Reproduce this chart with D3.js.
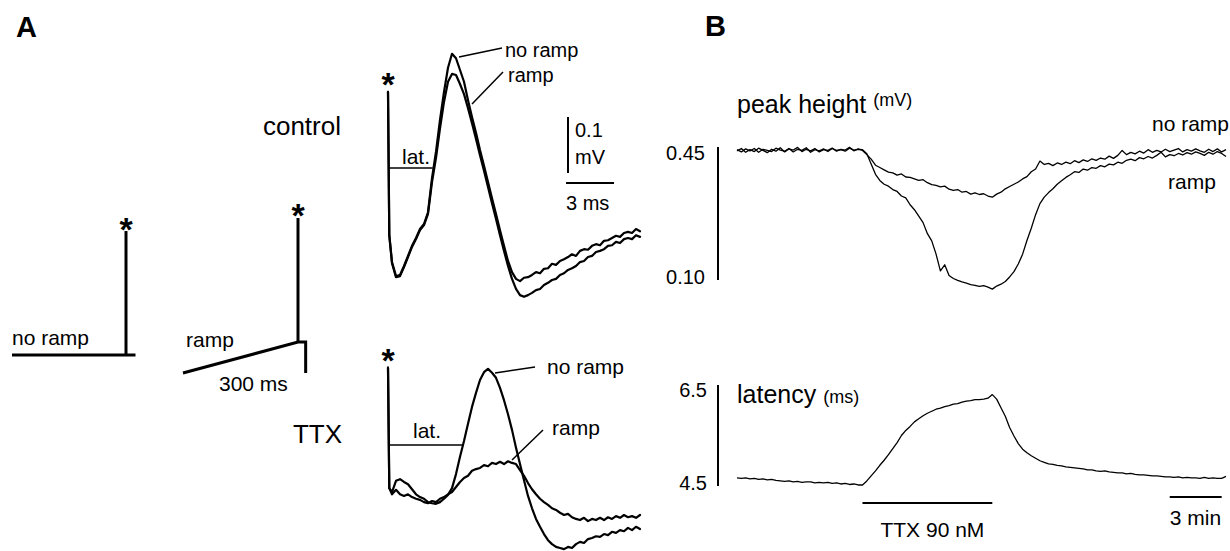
<!DOCTYPE html>
<html><head><meta charset="utf-8">
<script src="https://cdn.jsdelivr.net/npm/d3@7"></script>
<style>
html,body{margin:0;padding:0;background:#fff;}
svg{display:block;}
text{font-family:'Liberation Sans',Arial,Helvetica,sans-serif;fill:#000;}
</style>
</head><body>
<svg id="chart" width="1230" height="551"></svg>
<script>
// ---------------- DATA ----------------
// Panel A: evoked responses, time in ms after stimulus, amplitude in mV (relative to latency level)
const traceTimesMs = [0, 0.08].concat(d3.range(0.25, 15.76, 0.25));
const controlNoRamp = [0.136,-0.120,-0.168,-0.193,-0.191,-0.175,-0.157,-0.139,-0.125,-0.109,-0.100,-0.079,-0.018,0.029,0.086,0.136,0.179,0.204,0.196,0.175,0.154,0.121,0.091,0.063,0.032,0.004,-0.025,-0.054,-0.082,-0.111,-0.139,-0.166,-0.186,-0.198,-0.202,-0.196,-0.195,-0.191,-0.186,-0.188,-0.180,-0.179,-0.171,-0.173,-0.166,-0.163,-0.159,-0.154,-0.157,-0.148,-0.145,-0.146,-0.139,-0.136,-0.138,-0.130,-0.129,-0.125,-0.121,-0.123,-0.116,-0.114,-0.116,-0.109,-0.113];
const controlRamp = [0.136,-0.120,-0.170,-0.195,-0.193,-0.177,-0.159,-0.141,-0.127,-0.111,-0.102,-0.082,-0.025,0.018,0.071,0.118,0.154,0.168,0.166,0.150,0.132,0.107,0.080,0.052,0.023,-0.005,-0.034,-0.063,-0.091,-0.120,-0.148,-0.175,-0.198,-0.216,-0.227,-0.230,-0.227,-0.223,-0.218,-0.216,-0.209,-0.205,-0.200,-0.198,-0.191,-0.188,-0.182,-0.179,-0.175,-0.168,-0.166,-0.159,-0.157,-0.150,-0.148,-0.145,-0.139,-0.138,-0.132,-0.134,-0.127,-0.125,-0.127,-0.120,-0.123];
const ttxNoRamp = [0.138,-0.077,-0.084,-0.064,-0.061,-0.066,-0.070,-0.079,-0.088,-0.093,-0.096,-0.102,-0.104,-0.105,-0.102,-0.096,-0.089,-0.077,-0.052,-0.021,0.007,0.038,0.068,0.093,0.116,0.130,0.136,0.129,0.120,0.102,0.080,0.055,0.027,-0.005,-0.034,-0.063,-0.091,-0.113,-0.132,-0.146,-0.159,-0.170,-0.177,-0.182,-0.184,-0.186,-0.182,-0.184,-0.177,-0.173,-0.175,-0.168,-0.166,-0.163,-0.164,-0.159,-0.161,-0.155,-0.157,-0.152,-0.154,-0.148,-0.152,-0.146,-0.150];
const ttxRamp = [0.138,-0.077,-0.088,-0.080,-0.088,-0.091,-0.088,-0.093,-0.096,-0.098,-0.102,-0.104,-0.100,-0.102,-0.096,-0.093,-0.088,-0.084,-0.075,-0.066,-0.059,-0.055,-0.046,-0.043,-0.041,-0.036,-0.038,-0.032,-0.034,-0.030,-0.034,-0.029,-0.032,-0.034,-0.045,-0.055,-0.068,-0.079,-0.088,-0.096,-0.102,-0.107,-0.113,-0.116,-0.121,-0.125,-0.123,-0.129,-0.132,-0.134,-0.130,-0.136,-0.132,-0.134,-0.130,-0.134,-0.129,-0.132,-0.127,-0.130,-0.125,-0.129,-0.127,-0.130,-0.125];
const latencyControlMs = 2.8;
const latencyTTXMs = 4.7;
const scaleBarMs = 3;
const scaleBarMv = 0.1;

// Stimulus protocols (ms relative to stimulus, command level in arbitrary units)
const protoNoRampTime = [-300, 25];
const protoNoRampLevel = [0, 0];
const protoRampTime = [-300, 0, 20, 20];
const protoRampLevel = [0, 1, 1, 0];
const stimulusHeight = 4;

// Panel B: time course, one sample every 0.25 min
const sampleMinutes = 0.25;
const peakNoRamp = [0.440,0.446,0.436,0.443,0.438,0.447,0.441,0.435,0.444,0.439,0.448,0.437,0.445,0.442,0.449,0.438,0.444,0.440,0.446,0.437,0.443,0.441,0.447,0.439,0.444,0.442,0.449,0.440,0.445,
0.441,0.430,0.418,0.402,0.396,0.390,0.384,0.382,0.376,0.379,
0.371,0.370,0.366,0.362,0.364,0.356,0.351,0.349,0.345,0.347,
0.339,0.336,0.338,0.331,0.333,0.326,0.329,0.325,0.327,0.321,
0.318,0.326,0.331,0.340,0.346,0.352,0.358,0.366,0.372,0.385,
0.392,0.413,0.404,0.407,0.401,0.408,0.404,0.410,0.406,0.414,
0.409,0.416,0.412,0.419,0.415,0.421,0.418,0.426,0.420,0.428,
0.441,0.430,0.436,0.432,0.439,0.434,0.443,0.436,0.441,0.437,
0.444,0.438,0.442,0.446,0.437,0.443,0.439,0.445,0.440,0.436,
0.444,0.438,0.445,0.437,0.443];
const peakRamp = [0.443,0.437,0.445,0.440,0.446,0.436,0.444,0.441,0.438,0.447,0.442,0.439,0.446,0.437,0.444,0.441,0.448,0.436,0.443,0.440,0.445,0.438,0.446,0.441,0.443,0.439,0.447,0.442,0.444,
0.443,0.432,0.405,0.378,0.362,0.352,0.347,0.338,0.333,0.321,
0.316,0.298,0.285,0.268,0.251,0.222,0.203,0.168,0.124,0.140,
0.112,0.104,0.099,0.095,0.092,0.088,0.086,0.083,0.085,0.081,
0.076,0.084,0.089,0.096,0.108,0.122,0.142,0.168,0.204,0.236,
0.272,0.301,0.318,0.330,0.340,0.352,0.361,0.370,0.377,0.385,
0.383,0.392,0.389,0.396,0.394,0.401,0.398,0.405,0.403,0.410,
0.407,0.415,0.418,0.414,0.422,0.419,0.425,0.421,0.428,0.436,
0.424,0.430,0.427,0.433,0.429,0.435,0.431,0.437,0.433,0.428,
0.436,0.431,0.438,0.433,0.425];
const latencyTrace = [4.66,4.65,4.66,4.64,4.65,4.63,4.64,4.62,4.63,4.61,4.60,4.59,4.60,4.58,4.59,4.57,4.58,4.58,4.56,4.57,4.56,4.57,4.55,4.56,4.54,4.55,4.53,4.54,4.52,
4.52,4.60,4.70,4.80,4.91,5.01,5.12,5.24,5.36,5.50,
5.60,5.68,5.77,5.83,5.89,5.94,5.98,6.02,6.04,6.07,
6.09,6.12,6.13,6.16,6.18,6.19,6.21,6.21,6.22,6.24,
6.31,6.22,6.05,5.88,5.66,5.49,5.34,5.23,5.16,5.10,
5.05,5.00,4.97,4.94,4.93,4.91,4.90,4.88,4.87,4.86,
4.85,4.84,4.82,4.82,4.80,4.79,4.80,4.78,4.77,4.76,
4.76,4.74,4.75,4.73,4.72,4.72,4.71,4.70,4.70,4.69,
4.68,4.68,4.67,4.68,4.66,4.67,4.66,4.66,4.65,4.67,
4.65,4.66,4.65,4.65,4.69];
const peakTicks = [0.45, 0.10];
const latencyTicks = [6.5, 4.5];
const ttxWindowMin = [7.25, 14.75];
const timeBarMin = [25.0, 28.0];

// ---------------- DRAW ----------------
const svg = d3.select('#chart');
svg.append('rect').attr('width', 1230).attr('height', 551).attr('fill', '#fff');

function label(x, y, str, size, opts = {}) {
  return svg.append('text').attr('x', x).attr('y', y)
    .attr('font-size', size)
    .attr('font-weight', opts.bold ? 'bold' : 'normal')
    .attr('text-anchor', opts.anchor || 'start')
    .text(str);
}
function seg(x1, y1, x2, y2, w) {
  svg.append('line').attr('x1', x1).attr('y1', y1).attr('x2', x2).attr('y2', y2)
    .attr('stroke', '#000').attr('stroke-width', w);
}
function star(cx, cy) {
  label(cx, cy + 20, '*', 34, {bold: true, anchor: 'middle'});
}

label(16, 37, 'A', 29, {bold: true});
label(705, 36, 'B', 29, {bold: true});

// ---- stimulus protocol schematics ----
const protoX1 = d3.scaleLinear().domain([-300, 0]).range([12, 126]);
const protoY1 = d3.scaleLinear().domain([0, 1]).range([355, 324]);
const protoX2 = d3.scaleLinear().domain([-300, 0]).range([183, 298]);
const protoY2 = d3.scaleLinear().domain([0, 1]).range([373, 342]);

const protoLine1 = d3.line().x(d => protoX1(d[0])).y(d => protoY1(d[1]));
const protoLine2 = d3.line().x(d => protoX2(d[0])).y(d => protoY2(d[1]));
svg.append('path').attr('d', protoLine1(d3.zip(protoNoRampTime, protoNoRampLevel)))
  .attr('fill', 'none').attr('stroke', '#000').attr('stroke-width', 3);
svg.append('path').attr('d', protoLine2(d3.zip(protoRampTime, protoRampLevel)))
  .attr('fill', 'none').attr('stroke', '#000').attr('stroke-width', 3).attr('stroke-linejoin', 'miter');
seg(protoX1(0), protoY1(0), protoX1(0), protoY1(stimulusHeight), 3);
seg(protoX2(0), protoY2(1), protoX2(0), protoY2(1 + stimulusHeight), 3);
star(protoX1(0), protoY1(stimulusHeight) - 10);
star(protoX2(0), protoY2(1 + stimulusHeight) - 11);
label(12, 345, 'no ramp', 21);
label(186, 347, 'ramp', 21);
label(219, 391, '300 ms', 21);

// ---- Panel A traces ----
const ax = d3.scaleLinear().domain([0, 15.75]).range([388, 640]);
const ayC = d3.scaleLinear().domain([0, 0.1]).range([168, 112]);
const ayT = d3.scaleLinear().domain([0, 0.1]).range([445, 389]);

// latency lines
seg(ax(0), ayC(0), ax(latencyControlMs), ayC(0), 1.3);
seg(ax(0), ayT(0), ax(latencyTTXMs), ayT(0), 1.3);
label(402, 164, 'lat.', 21);
label(413, 438, 'lat.', 21);

function trace(values, yScale, w) {
  const line = d3.line().x((d, i) => ax(traceTimesMs[i])).y(d => yScale(d));
  svg.append('path').attr('d', line(values))
    .attr('fill', 'none').attr('stroke', '#000').attr('stroke-width', w)
    .attr('stroke-linejoin', 'round').attr('stroke-linecap', 'round');
}
trace(controlRamp, ayC, 2.2);
trace(controlNoRamp, ayC, 2.2);
trace(ttxRamp, ayT, 2.2);
trace(ttxNoRamp, ayT, 2.2);

star(ax(0), ayC(controlNoRamp[0]) - 16);
star(ax(0), ayT(ttxNoRamp[0]) - 16);
label(341, 135, 'control', 26, {anchor: 'end'});
label(342, 443, 'TTX', 26, {anchor: 'end'});

// annotation leaders
seg(459, 57, 502, 48, 1.5);
label(505, 57, 'no ramp', 20);
seg(472, 104, 503, 72, 1.5);
label(508, 82, 'ramp', 20);
seg(495, 373, 535, 367, 1.5);
label(547, 374, 'no ramp', 21);
seg(512, 460, 543, 430, 1.5);
label(552, 435, 'ramp', 21);

// scale bars
const sbT = 11.25;
seg(ax(sbT), ayC(-0.009), ax(sbT), ayC(-0.009 + scaleBarMv), 2);
seg(ax(11.125), ayC(-0.027), ax(11.125 + scaleBarMs), ayC(-0.027), 2);
label(575, 137, '0.1', 20);
label(575, 164, 'mV', 20);
label(566, 210, '3 ms', 20);

// ---- Panel B ----
const bx = d3.scaleLinear().domain([0, 28.25]).range([737, 1226]);
const py = d3.scaleLinear().domain([0.10, 0.45]).range([280, 147]);
const ly = d3.scaleLinear().domain([4.5, 6.5]).range([486, 385]);

seg(718, py(0.45), 718, py(0.10), 2);
seg(718, ly(6.5), 718, ly(4.5), 2);
label(705, py(peakTicks[0]) + 13, peakTicks[0].toFixed(2), 20, {anchor: 'end'});
label(705, py(peakTicks[1]) + 4, peakTicks[1].toFixed(2), 20, {anchor: 'end'});
label(707, ly(latencyTicks[0]) + 12, latencyTicks[0].toFixed(1), 20, {anchor: 'end'});
label(707, ly(latencyTicks[1]) + 4, latencyTicks[1].toFixed(1), 20, {anchor: 'end'});

function btrace(values, yScale) {
  const line = d3.line().x((d, i) => bx(i * sampleMinutes)).y(d => yScale(d));
  svg.append('path').attr('d', line(values))
    .attr('fill', 'none').attr('stroke', '#000').attr('stroke-width', 1.3)
    .attr('stroke-linejoin', 'round');
}
btrace(peakNoRamp, py);
btrace(peakRamp, py);
btrace(latencyTrace, ly);

const ph = svg.append('text').attr('x', 737).attr('y', 113).attr('font-size', 25);
ph.append('tspan').text('peak height ');
ph.append('tspan').attr('font-size', 18).attr('dy', -7).text('(mV)');
const lt = svg.append('text').attr('x', 737).attr('y', 403).attr('font-size', 25);
lt.append('tspan').text('latency ');
lt.append('tspan').attr('font-size', 18).text('(ms)');

label(1152, 131, 'no ramp', 21);
label(1168, 189, 'ramp', 21);

seg(bx(ttxWindowMin[0]), 503, bx(ttxWindowMin[1]), 503, 2);
label((bx(ttxWindowMin[0]) + bx(ttxWindowMin[1])) / 2 + 5, 537, 'TTX 90 nM', 21, {anchor: 'middle'});
seg(bx(timeBarMin[0]), 497, bx(timeBarMin[1]), 497, 2);
label(bx(timeBarMin[0]), 525, '3 min', 21);
</script>
</body></html>
